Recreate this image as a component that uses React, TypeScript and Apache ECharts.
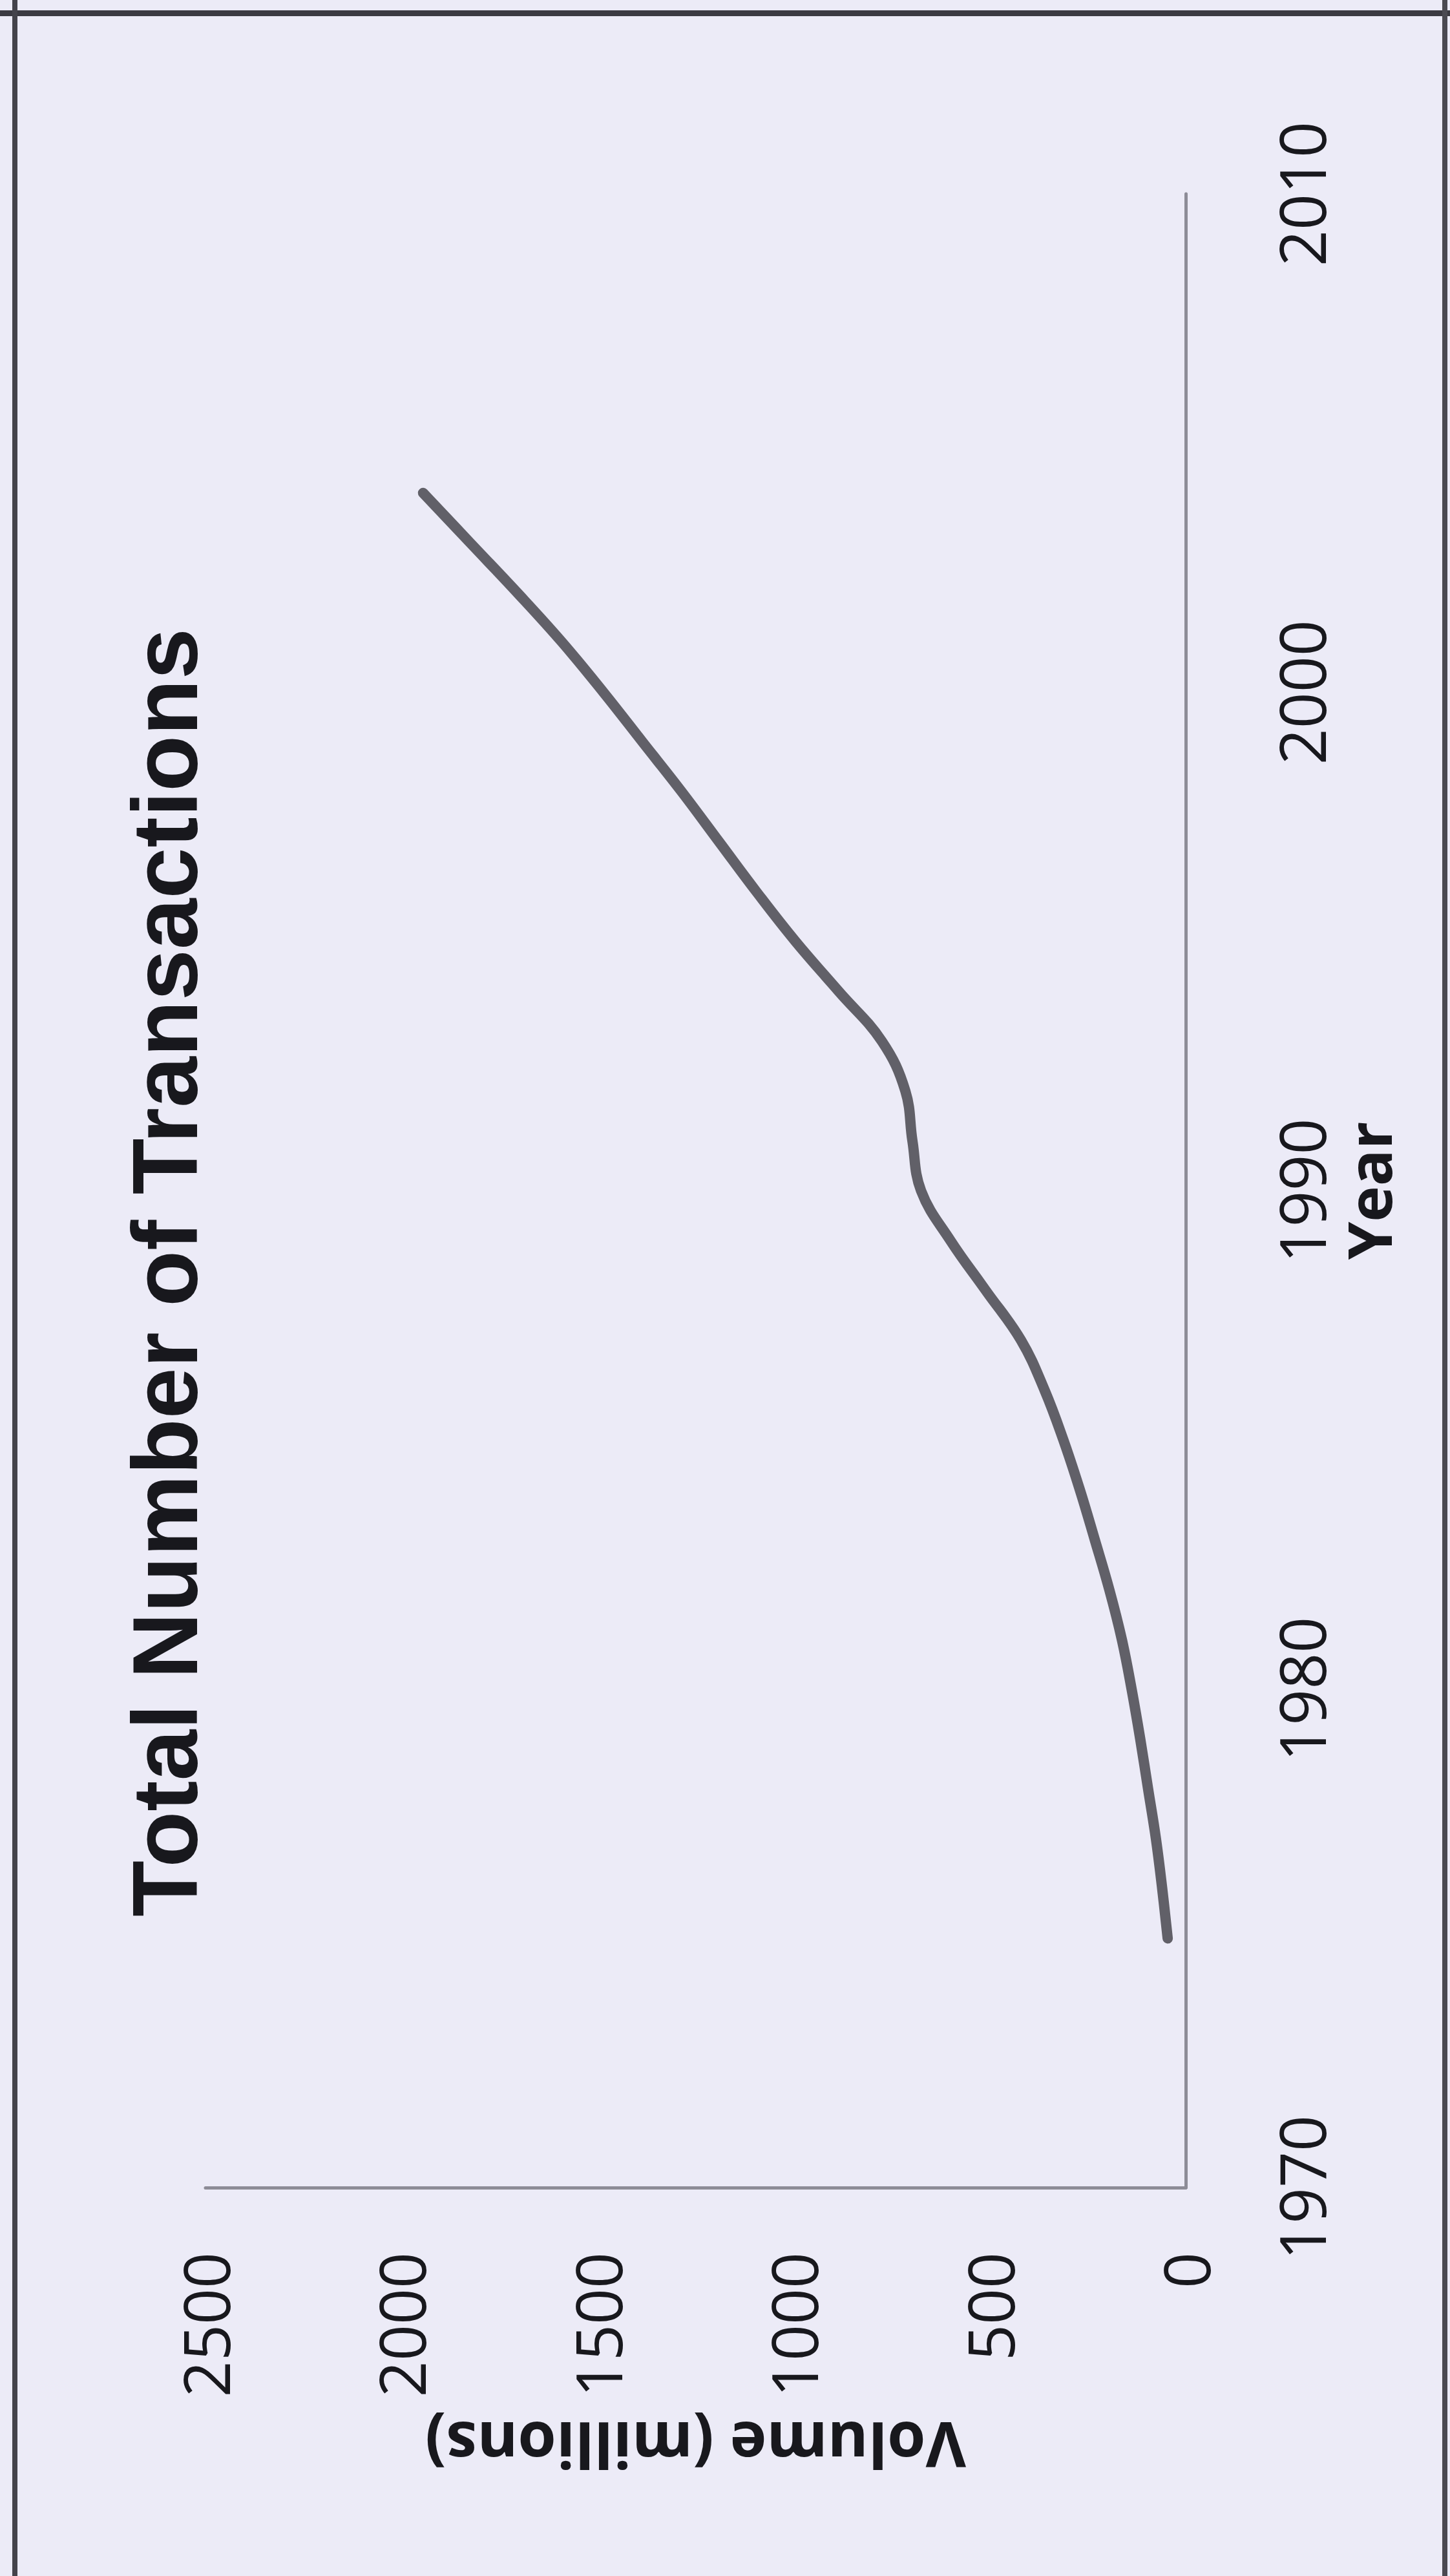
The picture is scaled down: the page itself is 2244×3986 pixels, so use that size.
import React, { useEffect, useRef } from "react";
import * as echarts from "echarts";

// Annual transaction volume (millions), 1975–2004
const years = [
  1975, 1976, 1977, 1978, 1979, 1980, 1981, 1982, 1983, 1984,
  1985, 1986, 1987, 1988, 1989, 1990, 1991, 1992, 1993, 1994,
  1995, 1996, 1997, 1998, 1999, 2000, 2001, 2002, 2003, 2004,
];
const volumes = [
  46, 60, 76, 96, 116, 138, 163, 195, 232, 270,
  312, 360, 420, 510, 600, 675, 697, 715, 775, 885,
  995, 1095, 1190, 1285, 1385, 1485, 1590, 1705, 1825, 1945,
];

const titleText = "Total Number of Transactions";
const volumeAxisName = "Volume (millions)";
const yearAxisName = "Year";

const W = 2244;
const H = 3986;
const BG = "#ecebf7";
const INK = "#18181d";
const AXIS = "#8d8c97";
const LINE = "#616068";

export default function App() {
  const ref = useRef<HTMLDivElement>(null);

  useEffect(() => {
    if (!ref.current) return;
    const chart = echarts.init(ref.current, undefined, { renderer: "svg" });

    const points = years.map((y, i) => [volumes[i], y]);

    chart.setOption({
      animation: false,
      backgroundColor: BG,
      grid: { left: 318, right: W - 1835, top: 300, bottom: H - 3385, containLabel: false },
      xAxis: {
        type: "value",
        min: 0,
        max: 2500,
        interval: 500,
        inverse: true,
        position: "bottom",
        axisLine: { show: true, lineStyle: { color: AXIS, width: 5 } },
        axisTick: { show: false },
        splitLine: { show: false },
        axisLabel: {
          rotate: 90,
          margin: 100,
          fontSize: 98,
          color: INK,
          fontFamily: "Open Sans",
          formatter: (v: number) => String(v),
        },
        name: volumeAxisName,
        nameLocation: "middle",
        nameRotate: 180,
        nameGap: 352,
        nameTextStyle: { fontSize: 96, fontWeight: "bold", color: INK, fontFamily: "Open Sans" },
      },
      yAxis: {
        type: "value",
        min: 1970,
        max: 2010,
        interval: 10,
        position: "right",
        axisLine: { show: true, lineStyle: { color: AXIS, width: 5 } },
        axisTick: { show: false },
        splitLine: { show: false },
        axisLabel: {
          rotate: 90,
          margin: 130,
          fontSize: 98,
          color: INK,
          fontFamily: "Open Sans",
          formatter: (v: number) => String(v),
        },
        name: yearAxisName,
        nameLocation: "middle",
        nameRotate: 90,
        nameGap: 195,
        nameTextStyle: { fontSize: 94, fontWeight: "bold", color: INK, fontFamily: "Open Sans" },
      },
      series: [
        {
          type: "line",
          data: points,
          smooth: 0.4,
          showSymbol: false,
          lineStyle: { color: LINE, width: 16, cap: "round", join: "round" },
        },
      ],
      graphic: [
        {
          type: "text",
          x: 255,
          y: 1969,
          rotation: Math.PI / 2,
          style: {
            text: titleText,
            fontSize: 142,
            fontWeight: "bold",
            fontFamily: "Liberation Sans",
            fill: INK,
            align: "center",
            verticalAlign: "middle",
          },
        },
        // page frame
        { type: "rect", shape: { x: 0, y: 16, width: W, height: 9 }, style: { fill: "#3b3a42" } },
        { type: "rect", shape: { x: 19, y: 0, width: 8, height: H }, style: { fill: "#44434b" } },
        { type: "rect", shape: { x: 2232, y: 0, width: 8, height: H }, style: { fill: "#4a4951" } },
      ],
    });

    return () => chart.dispose();
  }, []);

  return (
    <div
      ref={ref}
      style={{ position: "absolute", left: 0, top: 0, width: W, height: H }}
    />
  );
}
